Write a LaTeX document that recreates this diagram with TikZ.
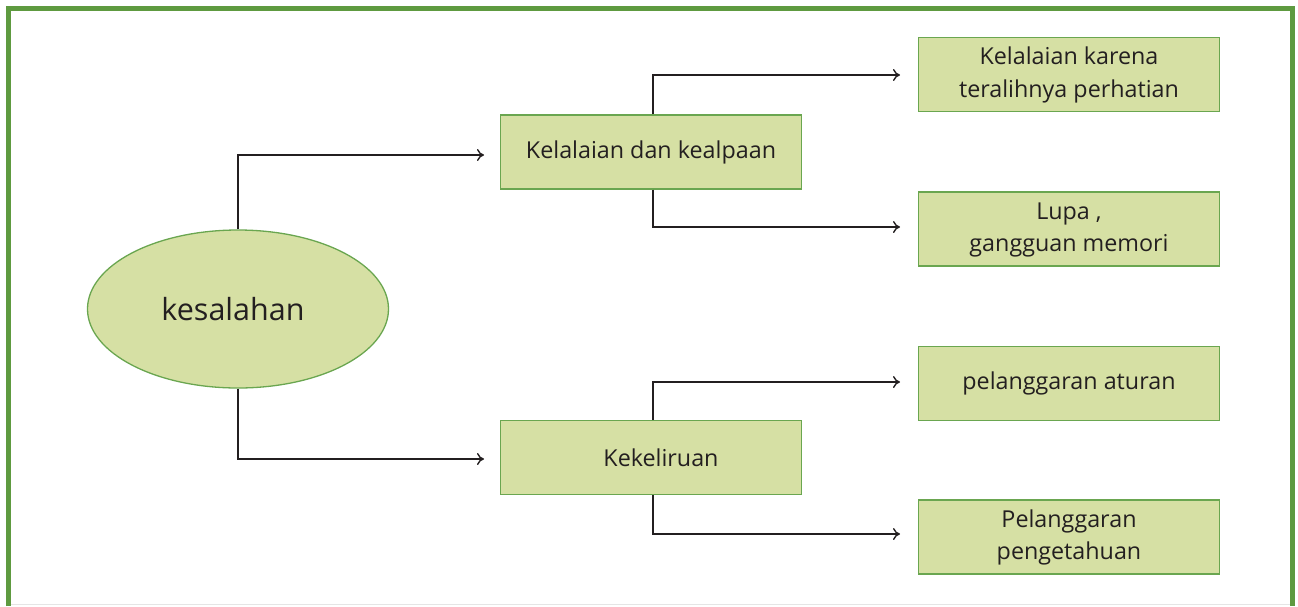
\documentclass[tikz,border=0pt]{standalone}
\usepackage{fontspec}
\setmainfont{Open Sans}
\usetikzlibrary{shapes.geometric,arrows.meta}
\definecolor{framegreen}{RGB}{94,154,64}
\definecolor{boxfill}{RGB}{214,224,164}
\definecolor{boxline}{RGB}{106,166,80}
\definecolor{inkdark}{RGB}{35,31,32}
% two centred lines, set a little below the middle of their box
\newcommand{\twolines}[2]{\raisebox{-3pt}{\begin{tabular}{@{}c@{}}#1\\#2\end{tabular}}}
\tikzset{
  conceptbox/.style={draw=boxline, line width=1.3pt, fill=boxfill, minimum width=301pt,
    minimum height=74pt, inner sep=0pt, align=center, text=inkdark,
    font=\fontsize{23.3}{32.5}\selectfont},
  rootshape/.style={ellipse, draw=boxline, line width=1.3pt, fill=boxfill,
    minimum width=301pt, minimum height=158pt, inner sep=0pt, text=inkdark,
    font=\fontsize{30.5}{34}\selectfont},
  link/.style={draw=inkdark, line width=1.3pt, -{To[length=7pt,width=12pt,line width=1.4pt]}},
}
\begin{document}
\begin{tikzpicture}[x=1pt,y=-1pt]
  \useasboundingbox (0,0) rectangle (1298,606);
  % outer frame, open at the bottom
  \draw[black!10, line width=1pt] (11,604.5) -- (1290,604.5);
  \draw[framegreen, line width=5pt] (8.5,606) -- (8.5,8.5) -- (1292.5,8.5) -- (1292.5,606);

  % nodes
  \node[rootshape] (root) at (238,309) {\hspace*{-10pt}kesalahan};
  \node[conceptbox] (neglect) at (651,152) {Kelalaian dan kealpaan};
  \node[conceptbox] (mistake) at (651,457.5) {\hspace*{20pt}Kekeliruan};
  \node[conceptbox] (distract) at (1069,74.5) {\twolines{Kelalaian karena}{teralihnya perhatian}};
  \node[conceptbox] (forget) at (1069,229) {\twolines{Lupa ,}{gangguan memori}};
  \node[conceptbox] (rulebreak) at (1069,383.5) {pelanggaran aturan};
  \node[conceptbox] (knowbreak) at (1069,537) {\twolines{Pelanggaran}{pengetahuan}};

  % connectors
  \coordinate (e1) at (484,155);
  \coordinate (e2) at (484,459);
  \draw[link] (root.north) |- (e1);
  \draw[link] (root.south) |- (e2);

  \coordinate (n1) at (900,75);
  \coordinate (n2) at (900,227);
  \coordinate (m1) at (900,382);
  \coordinate (m2) at (900,534);
  \draw[link] (neglect.north -| 653,0) |- (n1);
  \draw[link] (neglect.south -| 653,0) |- (n2);
  \draw[link] (mistake.north -| 653,0) |- (m1);
  \draw[link] (mistake.south -| 653,0) |- (m2);
\end{tikzpicture}
\end{document}
